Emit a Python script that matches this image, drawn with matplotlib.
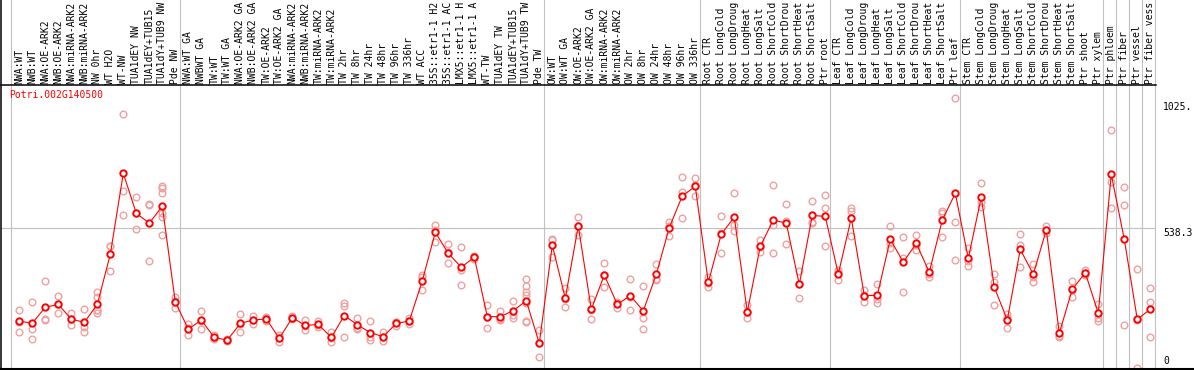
"""
Expression profile of Potri.002G140500 across poplar samples (eFP-style chart).
Mean per sample as a red line with open circles, replicates as pale circles.
"""
import matplotlib
matplotlib.use("Agg")
import matplotlib.pyplot as plt
from matplotlib.lines import Line2D

plt.rcParams["font.family"] = ["DejaVu Sans Mono"]

GENE = "Potri.002G140500"

# sample names as printed (the chart cuts them at 14 characters)
labels = [
    "NWA:WT", "NWB:WT", "NWA:OE-ARK2", "NWB:OE-ARK2", "NWA:miRNA-ARK2",
    "NWB:miRNA-ARK2", "NW 0hr", "WT H2O", "WT-NW", "TUA1dEY NW",
    "TUA1dEY+TUB15", "TUA1dY+TUB9 NW", "Pde NW",
    "NWA:WT GA", "NWBWT GA", "TW:WT", "TW:WT GA", "NWA:OE-ARK2 GA",
    "NWB:OE-ARK2 GA", "TW:OE-ARK2", "TW:OE-ARK2 GA", "NWA:miRNA-ARK2",
    "NWB:miRNA-ARK2", "TW:miRNA-ARK2", "TW:miRNA-ARK2", "TW 2hr", "TW 8hr",
    "TW 24hr", "TW 48hr", "TW 96hr", "TW 336hr", "WT ACC", "35S::etr1-1 H2",
    "35S::etr1-1 AC", "LMX5::etr1-1 H", "LMX5::etr1-1 A", "WT-TW",
    "TUA1dEY TW", "TUA1dEY+TUB15", "TUA1dY+TUB9 TW", "Pde TW",
    "OW:WT", "OW:WT GA", "OW:OE-ARK2", "OW:OE-ARK2 GA", "OW:miRNA-ARK2",
    "OW:miRNA-ARK2", "OW 2hr", "OW 8hr", "OW 24hr", "OW 48hr", "OW 96hr",
    "OW 336hr",
    "Root CTR", "Root LongCold", "Root LongDroug", "Root LongHeat",
    "Root LongSalt", "Root ShortCold", "Root ShortDrou", "Root ShortHeat",
    "Root ShortSalt", "Ptr root",
    "Leaf CTR", "Leaf LongCold", "Leaf LongDroug", "Leaf LongHeat",
    "Leaf LongSalt", "Leaf ShortCold", "Leaf ShortDrou", "Leaf ShortHeat",
    "Leaf ShortSalt", "Ptr leaf",
    "Stem CTR", "Stem LongCold", "Stem LongDroug", "Stem LongHeat",
    "Stem LongSalt", "Stem ShortCold", "Stem ShortDrou", "Stem ShortHeat",
    "Stem ShortSalt", "Ptr shoot", "Ptr xylem",
    "Ptr phloem", "Ptr fiber", "Ptr vessel", "Ptr fiber vess",
]

# number of samples in each experiment block (separated by grey rules)
group_sizes = [13, 28, 12, 10, 10, 11, 1, 1, 1, 1]

means = [
    180, 173, 234, 245, 188, 176, 245, 438, 750, 596, 558, 624, 254,
    150, 184, 118, 107, 172, 185, 189, 114, 194, 164, 168, 118, 202, 167,
    136, 121, 172, 181, 336, 523, 442, 388, 427, 198, 198, 221, 259, 95,
    473, 269, 547, 226, 358, 245, 279, 220, 361, 541, 663, 700,
    330, 516, 581, 216, 469, 570, 558, 322, 588, 584,
    362, 578, 279, 280, 496, 408, 480, 369, 570, 673,
    423, 658, 311, 185, 457, 361, 532, 134, 303, 367, 211,
    746, 496, 188, 226,
]

replicates = [
    [223, 140, 177], [253, 151, 111], [334, 188, 185], [277, 211, 247],
    [211, 165, 188], [226, 159, 138], [294, 275, 223, 211, 222],
    [470, 373, 471], [978, 683, 591], [658, 596, 534], [631, 627, 411],
    [702, 692, 673, 596, 583, 511], [275, 230, 257],
    [168, 127, 155], [220, 149, 183], [127, 112, 115], [110, 104, 107],
    [208, 138, 170], [202, 168, 185], [195, 180, 192], [127, 100, 115],
    [200, 190, 193], [185, 146, 161], [181, 164, 159], [140, 99, 115],
    [250, 240, 120], [194, 151, 156], [180, 121, 108], [140, 105, 118],
    [176, 162, 178], [194, 168, 181], [357, 302, 349], [550, 487, 532],
    [477, 403, 446], [465, 378, 319], [433, 420, 428], [243, 153, 198],
    [220, 185, 189], [258, 204, 191], [343, 316, 294, 281, 249, 181, 176],
    [146, 44, 95],
    [497, 427, 495], [307, 234, 266], [582, 512, 547], [266, 188, 224],
    [403, 311, 360], [255, 230, 250], [342, 223, 272], [316, 194, 149],
    [400, 342, 341], [564, 510, 549], [735, 577, 677], [731, 664, 705],
    [352, 311, 327], [586, 442, 520], [673, 551, 529], [243, 191, 214],
    [493, 446, 468], [704, 551, 442], [631, 478, 565], [374, 269, 324],
    [643, 561, 560], [665, 615, 469],
    [378, 339, 369], [615, 606, 509], [301, 253, 283], [324, 249, 267],
    [547, 461, 480], [504, 425, 293], [512, 455, 474], [394, 349, 364],
    [606, 506, 599], [1039, 561, 415],
    [461, 394, 413], [712, 621, 641], [362, 333, 243], [208, 153, 194],
    [515, 474, 388], [401, 333, 349], [547, 530, 519], [162, 118, 122],
    [335, 272, 302], [378, 358, 365], [245, 194, 182],
    [917, 718, 615], [699, 627, 164], [380, 184, 0], [307, 254, 118],
]

y_ticks = [0, 538.3, 1025]
y_ticklabels = ["0", "538.3", "1025."]

RED = "#ff0000"
PALE = "#f0a0a0"
GRID = "#c0c0c0"
W, H = 1194, 370
FS = 7.0


def main():
    fig = plt.figure(figsize=(W / 100, H / 100), dpi=100)
    # plot box: x 1..1156 px, y 85..369 px (from top)
    ax = fig.add_axes([1 / W, 1 / H, 1155 / W, 284 / H])
    ax.set_xlim(-1.408, 87.44)
    ax.set_ylim(-3.85, 1090.5)
    ax.set_xticks([]); ax.set_yticks([])
    for s in ("left", "right", "bottom"):
        ax.spines[s].set_visible(False)
    ax.spines["top"].set_linewidth(1.1)

    x = list(range(len(labels)))
    over = 1 + 85 / 284

    # block separators run up through the label strip
    start = 0
    for g in [0] + group_sizes:
        start += g
        ax.axvline(start - 0.64, ymin=0, ymax=over, clip_on=False,
                   color=GRID, lw=0.8, zorder=0)
    ax.axhline(y_ticks[1], color=GRID, lw=0.8, zorder=0)

    for i, reps in enumerate(replicates):
        ax.plot([i] * len(reps), reps, "o", ms=4.8, mfc="none", mec=PALE,
                mew=1.0, clip_on=False, zorder=2)
    ax.plot(x, means, "-", color=RED, lw=0.8, zorder=3)
    ax.plot(x, means, "o", ms=4.6, mfc="white", mec=RED, mew=1.4, zorder=4)

    for i, lab in enumerate(labels):
        ax.text(i, 1 + 1.5 / 284, lab, rotation=90, ha="center", va="bottom",
                fontsize=FS, transform=ax.get_xaxis_transform(),
                clip_on=False)

    ax.text(0.0072, 0.982, GENE, color=RED, fontsize=FS, ha="left", va="top",
            transform=ax.transAxes)

    tx = ax.get_yaxis_transform()
    for v, t in zip(y_ticks, y_ticklabels):
        ax.text(1.0061, v + (6 if v == 0 else 0), t, fontsize=FS, ha="left",
                va="bottom" if v == 0 else "top", transform=tx,
                clip_on=False)

    # outer frame lines: left edge and full-width bottom rule
    fig.add_artist(Line2D([1 / W, 1 / W], [0, 1], color="black", lw=1.1))
    fig.add_artist(Line2D([0, 1], [1 / H, 1 / H], color="black", lw=1.5))

    fig.savefig("out.png", dpi=100)


if __name__ == "__main__":
    main()
